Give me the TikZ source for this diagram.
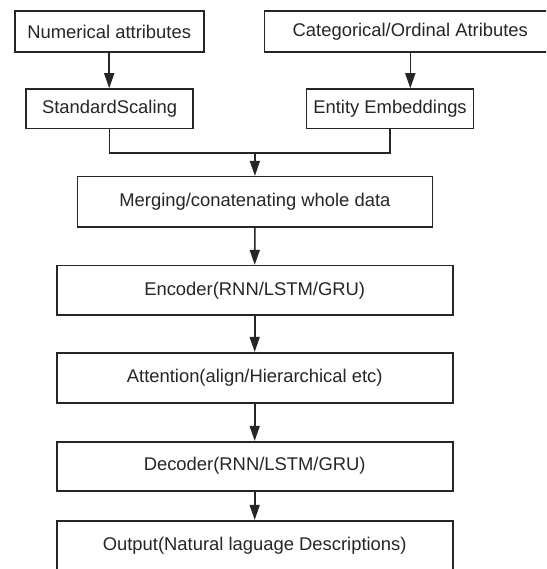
\documentclass[tikz,border=0pt]{standalone}
\usepackage{fontspec}
\setmainfont{Liberation Sans}
\usetikzlibrary{arrows.meta}
\tikzset{
  box/.style={draw=black!85, line width=1.6pt, rectangle, inner sep=0pt, anchor=center,
    font=\fontsize{18.4}{22}\selectfont, text=black!85},
  arr/.style={draw=black!85, line width=1.6pt, -{Triangle[length=15pt,width=10pt]}},
  ln/.style={draw=black!85, line width=1.6pt}
}
\begin{document}
\begin{tikzpicture}[x=1pt,y=-1pt]
\useasboundingbox (0,0) rectangle (546,569);
\clip (0,0) rectangle (546,569);
\fill[white] (0,0) rectangle (546,569);
\node[box, minimum width=189pt, minimum height=41pt] (num) at (109.2,31.5) {Numerical attributes};
\node[box, minimum width=291.4pt, minimum height=41pt] (cat) at (410.3,31.5) {Categorical/Ordinal Atributes};
\node[box, minimum width=167pt, minimum height=39.5pt] (std) at (109.6,108.8) {StandardScaling};
\node[box, minimum width=167pt, minimum height=39.5pt] (ent) at (390,108.8) {Entity Embeddings};
\node[box, minimum width=355pt, minimum height=50pt] (mrg) at (254.9,201.7) {Merging/conatenating whole data};
\node[box, minimum width=396pt, minimum height=49.3pt] (enc) at (254.7,290.3) {Encoder(RNN/LSTM/GRU)};
\node[box, minimum width=396pt, minimum height=50pt] (att) at (254.7,377.7) {Attention(align/Hierarchical etc)};
\node[box, minimum width=396pt, minimum height=49pt] (dec) at (254.7,466.2) {Decoder(RNN/LSTM/GRU)};
\node[box, minimum width=396pt, minimum height=50pt] (out) at (254.7,545.7) {Output(Natural laguage Descriptions)};
\coordinate (join) at (254.9,153.3);
\draw[arr] (num.south) -- (num.south |- std.north);
\draw[arr] (cat.south) -- (cat.south |- ent.north);
\draw[ln] (std.south) |- (join) -| (ent.south);
\draw[arr] (join) -- (mrg.north);
\draw[arr] (mrg.south) -- (enc.north);
\draw[arr] (enc.south) -- (att.north);
\draw[arr] (att.south) -- (dec.north);
\draw[arr] (dec.south) -- (out.north);
\end{tikzpicture}
\end{document}
